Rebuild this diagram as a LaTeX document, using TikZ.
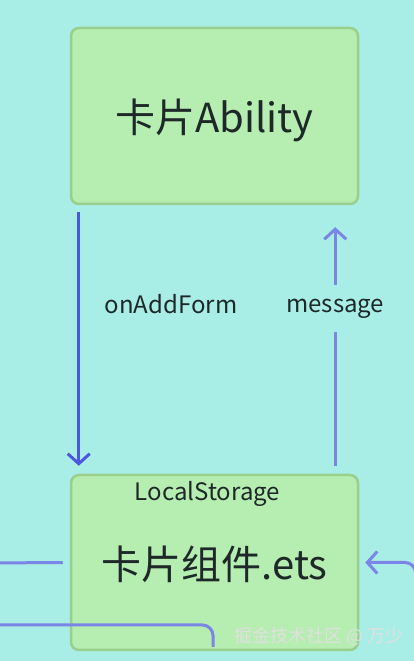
\documentclass[tikz,border=0pt]{standalone}
\usepackage{fontspec}
\setmainfont{Noto Sans CJK SC}
\usetikzlibrary{arrows.meta, positioning}
\definecolor{bgcol}{RGB}{169,238,230}
\definecolor{cardfill}{RGB}{182,237,176}
\definecolor{carddraw}{RGB}{152,207,142}
\definecolor{darklink}{RGB}{76,86,224}
\definecolor{lightlink}{RGB}{122,133,230}
\definecolor{inkcol}{RGB}{30,40,40}
\tikzstyle{card} = [rectangle, rounded corners=8pt,
    minimum width=287pt, minimum height=176pt, inner sep=0pt,
    text depth=0pt,
    draw=carddraw, line width=2.5pt, fill=cardfill,
    text=inkcol, font=\fontsize{40}{44}\selectfont]
\tikzstyle{tag} = [text=inkcol, font=\fontsize{24}{28}\selectfont]
\tikzstyle{arrow} = [line width=3pt, -{Straight Barb[length=10pt,width=22pt,line width=3pt]}]
\tikzstyle{link} = [line width=3pt, lightlink]

\begin{document}
\begin{tikzpicture}[x=1pt, y=1pt]

        \fill[bgcol] (0,0) rectangle (414,661);
        \useasboundingbox (0,0) rectangle (414,661);

        % Nodes
        \node (ability) [card] at (214.5,545) {卡片Ability};

        \node (widget) [card, minimum height=175pt] at (214.5,98.5) {卡片组件.ets};

        \node (storage) [tag, below=4pt of widget.north, xshift=-7pt] {LocalStorage};

        \node (addform) [tag] at (171,357) {onAddForm};

        \coordinate (leftin) at (-10,98);
        \coordinate (leftlow) at (-10,36);
        \coordinate (lowend) at (213,14);
        \coordinate (rightin) at (415.6,-20);

        % Arrows
        \draw [arrow, darklink] ([xshift=9pt,yshift=-7pt]ability.south west) -- ([xshift=9pt,yshift=8pt]widget.north west);
        \draw [arrow, lightlink] ([xshift=-24pt,yshift=8pt]widget.north east)
            -- node[pos=0.66, fill=bgcol, tag, inner ysep=14pt] (msg) {message} ([xshift=-24pt,yshift=-22pt]ability.south east);

        % Lines off the edge
        \draw [link] (leftin) -- ([xshift=-7pt]widget.west);
        \draw [link, rounded corners=10.6pt] (leftlow) -| (lowend);
        \draw [arrow, lightlink, rounded corners=10.6pt] (rightin) |- ([xshift=6pt]widget.east);

        \node (mark) [text=white!88!black, font=\fontsize{18}{20}\selectfont] at (319,25) {掘金技术社区 @ 万少};

    \end{tikzpicture}
\end{document}
